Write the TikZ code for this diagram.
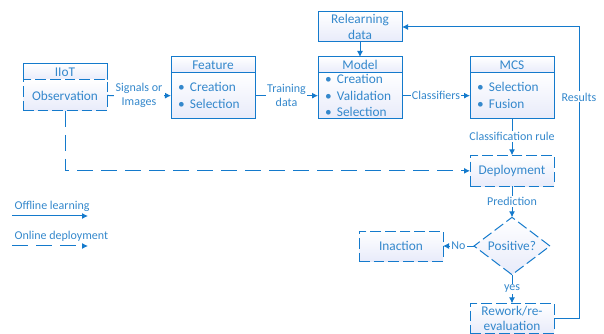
\documentclass[tikz,border=0pt]{standalone}
\usepackage{fontspec}
\setmainfont{Carlito}
\usetikzlibrary{arrows.meta,positioning,shapes.geometric}
\definecolor{lineblue}{RGB}{20,122,204}
\definecolor{textblue}{RGB}{52,136,204}
\definecolor{boxfill}{RGB}{232,235,250}
\tikzset{
  basebox/.style={draw=lineblue, line width=0.75pt, top color=white, bottom color=boxfill,
    text=textblue, font=\fontsize{10}{12.5}\selectfont, minimum width=63pt,
    inner sep=0pt, outer sep=0pt, align=center},
  headbox/.style={basebox, minimum height=12pt},
  listbox/.style={basebox, minimum height=34pt, text width=52.5pt, inner xsep=5.25pt, align=left},
  onlinebox/.style={basebox, dash pattern=on 8pt off 3pt},
  decision/.style={diamond, draw=lineblue, line width=0.75pt, dash pattern=on 8pt off 3pt,
    top color=white, bottom color=boxfill, text=textblue, font=\fontsize{10}{12}\selectfont,
    minimum width=57pt, minimum height=40.5pt, inner sep=0pt, outer sep=0pt},
  flow/.style={draw=lineblue, line width=0.75pt, -{Latex[length=4.5pt,width=4.5pt]}},
  dashedflow/.style={flow, dash pattern=on 12pt off 6pt},
  lbl/.style={fill=white, text=textblue, font=\fontsize{9}{10.5}\selectfont, inner sep=1pt, align=center}
}
\newcommand{\bitem}[1]{\makebox[9pt][l]{\textbullet}#1}

\begin{document}
\begin{tikzpicture}[x=0.75pt, y=-0.75pt]
\useasboundingbox (0,0) rectangle (604,334);

% learning chain
\node[headbox] (iiot) at (65,72) {IIoT};
\node[onlinebox, minimum height=23.25pt, below=0pt of iiot] (obs) {Observation};
\node[headbox] (feat) at (213,65) {Feature};
\node[listbox, below=0pt of feat] (featbody) {\bitem{Creation}\\\bitem{Selection}};
\node[headbox, right=47.25pt of feat] (model) {Model};
\node[listbox, below=0pt of model] (modelbody) {\bitem{Creation}\\\bitem{Validation}\\\bitem{Selection}};
\node[basebox, minimum height=22.5pt, above=11.25pt of model] (relearn) {Relearning\\data};
\node[headbox, right=51pt of model] (mcs) {MCS};
\node[listbox, below=0pt of mcs] (mcsbody) {\bitem{Selection}\\\bitem{Fusion}};

% deployment part
\node[onlinebox, minimum height=23.25pt, below=27.75pt of mcsbody] (deploy) {Deployment};
\node[decision, below=23.25pt of deploy] (pos) {Positive?};
\node[onlinebox, minimum height=22.5pt, left=23.25pt of pos] (inact) {Inaction};
\node[onlinebox, minimum height=22.5pt, below=21.5pt of pos, font=\fontsize{10}{11.5}\selectfont] (rework) {Rework/re-\\evaluation};

\draw[flow] (obs.east) -- node[lbl] {Signals or\\Images} (featbody.west);
\draw[flow] (featbody.east) -- node[lbl] {Training\\data} (modelbody.west);
\draw[flow] (modelbody.east) -- node[lbl] {Classifiers} (mcsbody.west);
\draw[flow] (relearn) -- (model);
\draw[flow] (mcsbody) -- node[lbl] {Classification rule} (deploy);
\draw[flow] (deploy) -- node[lbl] {Prediction} (pos);
\draw[flow] (pos) -- node[lbl] {No} (inact);
\draw[flow] (pos) -- node[lbl] {yes} (rework);
\draw[flow] (rework.east) -- ++(25,0) |- node[lbl, pos=0.38] {Results} (relearn.east);
\draw[dashedflow] (obs.south) |- (deploy.west);

% legend
\node[lbl, fill=none, anchor=west] (offline) at (13,206) {Offline learning};
\coordinate (off a) at (12,216);
\coordinate (off b) at (88,216);
\draw[flow] (off a) -- (off b);
\node[lbl, fill=none, anchor=west] (online) at (13,236) {Online deployment};
\coordinate (on a) at (12,246);
\coordinate (on b) at (88,246);
\draw[dashedflow] (on a) -- (on b);
\end{tikzpicture}
\end{document}
